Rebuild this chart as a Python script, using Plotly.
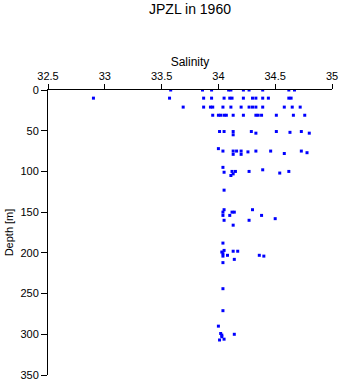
import plotly.graph_objects as go

salinity = [
    # ~0 m
    33.58, 33.86, 33.94, 34.09, 34.11, 34.22, 34.27, 34.39, 34.62, 34.67,
    # ~10 m
    32.90, 33.57, 33.87, 33.94, 34.05, 34.10, 34.12, 34.22, 34.30, 34.33, 34.39, 34.44, 34.62, 34.64,
    # ~20 m
    33.69, 33.87, 33.93, 33.95, 34.04, 34.11, 34.20, 34.27, 34.30, 34.33, 34.39, 34.58, 34.65, 34.72,
    # ~30 m
    33.95, 34.00, 34.02, 34.05, 34.07, 34.13, 34.22, 34.33, 34.35, 34.38, 34.51, 34.66, 34.76,
    # ~50 m
    34.01, 34.05, 34.13, 34.13, 34.29, 34.33, 34.51, 34.63, 34.73, 34.80,
    # ~75 m
    34.00, 34.04, 34.13, 34.16, 34.13, 34.20, 34.20, 34.26, 34.33, 34.46, 34.58, 34.73, 34.78,
    # ~100 m
    34.04, 34.05, 34.11, 34.12, 34.15, 34.13, 34.27, 34.39, 34.54, 34.62,
    # ~125 m
    34.05,
    # ~150 m
    34.05, 34.04, 34.12, 34.14, 34.30, 34.04, 34.10, 34.38, 34.50, 34.05, 34.27, 34.13,
    # ~200 m
    34.04, 34.05, 34.03, 34.04, 34.13, 34.17, 34.08, 34.04, 34.36, 34.40, 34.14, 34.04,
    # ~250 m
    34.04, 34.04,
    # ~300 m
    34.00, 34.02, 34.03, 34.14, 34.05, 34.01, 34.03,
]
depth = [
    0, 0, 0, 0, 0, 0, 0, 0, 0, 0,
    10, 10, 10, 10, 10, 10, 10, 10, 10, 10, 10, 10, 10, 10,
    21, 21, 21, 21, 21, 21, 21, 21, 21, 21, 21, 21, 21, 21,
    31, 31, 31, 31, 31, 31, 31, 31, 31, 31, 31, 31, 31,
    51, 51, 51, 55, 51, 53, 51, 52, 51, 53,
    72, 75, 75, 75, 79, 75, 79, 76, 75, 75, 78, 75, 77,
    95, 101, 105, 100, 100, 103, 100, 98, 102, 100,
    123,
    147, 150, 150, 150, 147, 154, 154, 154, 158, 160, 160, 166,
    188, 197, 199, 201, 198, 198, 203, 204, 203, 204, 208, 212,
    244, 271,
    290, 299, 301, 300, 306, 307, 303,
]

x_ticks = [32.5, 33, 33.5, 34, 34.5, 35]
y_ticks = [0, 50, 100, 150, 200, 250, 300, 350]

FONT = "Liberation Sans, Arial, Helvetica, sans-serif"

fig = go.Figure(
    go.Scatter(
        x=salinity, y=depth, mode="markers",
        marker=dict(symbol="square", size=3, color="#0000ff", line=dict(width=0)),
        showlegend=False, hoverinfo="x+y",
    )
)

fig.update_layout(
    width=341, height=384,
    margin=dict(l=48, r=9, t=90, b=9),
    paper_bgcolor="white", plot_bgcolor="white",
    font=dict(family=FONT, size=11, color="black"),
    title=dict(
        text="JPZL in 1960", x=0.5, xref="paper", xanchor="center",
        y=(384 - 9) / 384, yref="container", yanchor="middle",
        font=dict(family=FONT, size=14, color="black"),
    ),
    xaxis=dict(
        side="top", range=[32.5, 35], tickvals=x_ticks,
        ticktext=[f"{v:g}" for v in x_ticks],
        ticks="outside", ticklen=5, tickwidth=1, tickcolor="black",
        showline=True, linecolor="black", linewidth=1,
        showgrid=False, zeroline=False, automargin=False,
        title=dict(text="Salinity", standoff=0, font=dict(family=FONT, size=12)),
        tickfont=dict(family=FONT, size=11),
    ),
    yaxis=dict(
        range=[350, 0], tickvals=y_ticks,
        ticks="outside", ticklen=6, tickwidth=1, tickcolor="black",
        showline=True, linecolor="black", linewidth=1,
        showgrid=False, zeroline=False, automargin=False,
        title=dict(text="Depth [m]", standoff=4, font=dict(family=FONT, size=11)),
        tickfont=dict(family=FONT, size=11),
    ),
)

fig.write_html("out.html")
